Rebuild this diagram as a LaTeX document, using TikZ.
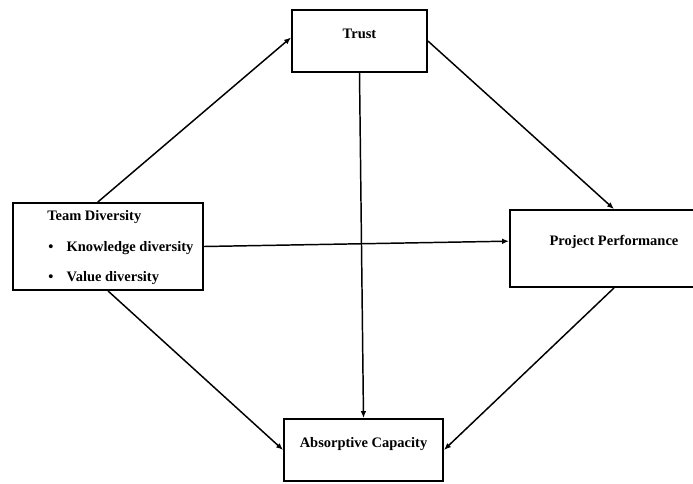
\documentclass[tikz,border=0pt]{standalone}
\usepackage{fontspec}
\setmainfont{Liberation Serif}
\usetikzlibrary{arrows.meta}

\begin{document}
\begin{tikzpicture}
  [x=0.25mm,y=-0.25mm,every node/.style={font=\fontsize{10.3}{12}\selectfont\bfseries,inner sep=0pt},
   box/.style={draw,line width=1.3pt,text height=2.5mm,text depth=4mm},
   arr/.style={-{Latex[length=5pt,width=4pt]},line width=1.05pt}]
  \clip (0,0) rectangle (693,483);
  \node[box,minimum width=33.75mm,minimum height=15.5mm] (trust) at (359.5,41) {Trust};
  \node[box,minimum width=47.5mm,minimum height=21.75mm] (td) at (108,246.5) {};
  \node[box,minimum width=52mm,minimum height=19.25mm] (pp) at (614,248.5) {Project Performance};
  \node[box,minimum width=39.75mm,minimum height=15.5mm] (ac) at (363.5,450) {Absorptive Capacity};

  \node[anchor=base west] (tdhead) at (47,220) {Team Diversity};
  \node[anchor=base west] (tdknow) at (48,251) {\makebox[4.6mm][l]{\textbullet}Knowledge diversity};
  \node[anchor=base west] (tdvalue) at (48,281) {\makebox[4.6mm][l]{\textbullet}Value diversity};

  \foreach \from/\to in {td.103/trust.177,trust.east/pp.north,trust.south/ac.north,
                         td.east/pp.176,td.south/ac.west,pp.south/ac.east}
    \draw[arr] (\from) -- (\to);

\end{tikzpicture}
\end{document}
